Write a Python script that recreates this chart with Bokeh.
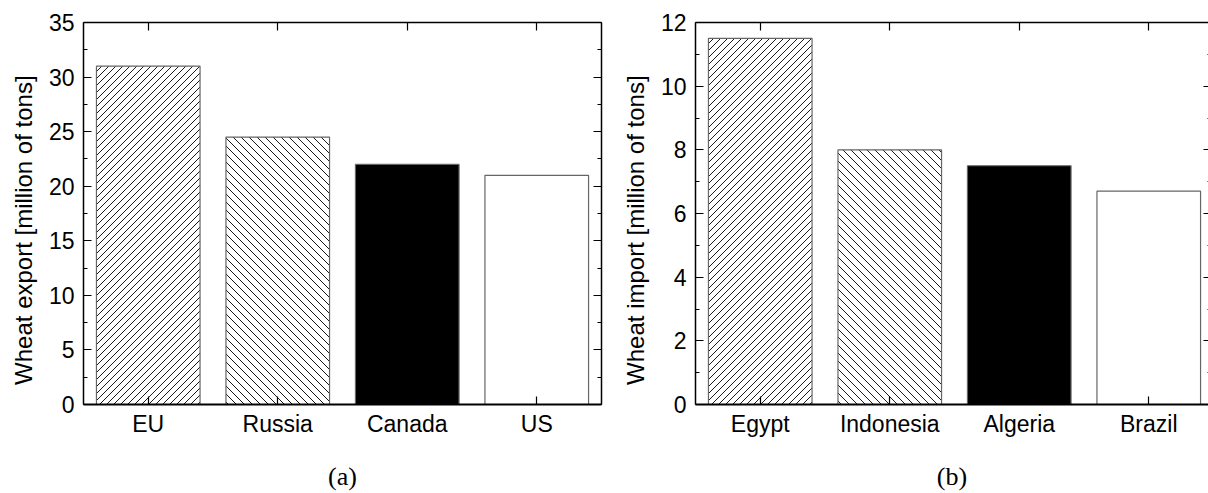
import base64
from bokeh.plotting import figure
from bokeh.models import (Range1d, FixedTicker, SingleIntervalTicker, LinearAxis,
                          CustomJSTickFormatter, ColumnDataSource, ImageURLTexture)
from bokeh.layouts import row
from bokeh.embed import file_html
from bokeh.resources import INLINE

# ---- data ----
export_countries = ["EU", "Russia", "Canada", "US"]
export_values = [31.0, 24.5, 22.0, 21.0]
import_countries = ["Egypt", "Indonesia", "Algeria", "Brazil"]
import_values = [11.5, 8.0, 7.5, 6.7]
bar_hatch = ["fwd", "bwd", " ", " "]
bar_fill = ["white", "white", "black", "white"]

FONT = "Liberation Sans"
SERIF = "Liberation Serif"
TICK_SIZE = "23px"
LABEL_SIZE = "24px"
H = 493
PX_PER_CAT = 129.5


def tile(s, forward):
    if forward:
        d = f"M0,{s} L{s},0 M-2,2 L2,-2 M{s-2},{s+2} L{s+2},{s-2}"
    else:
        d = f"M0,0 L{s},{s} M-2,{s-2} L2,{s+2} M{s-2},-2 L{s+2},2"
    svg = (f'<svg xmlns="http://www.w3.org/2000/svg" width="{s}" height="{s}">'
           f'<path d="{d}" stroke="#1a1a1a" stroke-width="1" fill="none"/></svg>')
    return "data:image/svg+xml;base64," + base64.b64encode(svg.encode()).decode()


def make_fig(cats, vals, ymax, interval, ylabel, caption, width, bl, br, cut_right):
    frame_w = width - bl - br
    x_end = -0.5 + frame_w / PX_PER_CAT
    p = figure(width=width, height=H, output_backend="svg", toolbar_location=None,
               x_range=Range1d(-0.5, x_end), y_range=Range1d(0, ymax),
               min_border_left=bl, min_border_right=br, min_border_top=22,
               min_border_bottom=89, x_axis_location=None, y_axis_location=None)
    p.outline_line_color = None
    p.xgrid.visible = False
    p.ygrid.visible = False
    p.background_fill_color = "white"
    p.border_fill_color = "white"

    src = ColumnDataSource(dict(x=list(range(len(cats))), top=vals,
                                hatch=bar_hatch, fill=bar_fill))
    textures = {"fwd": ImageURLTexture(url=tile(7, True), repetition="repeat"),
                "bwd": ImageURLTexture(url=tile(8, False), repetition="repeat")}
    p.vbar(x="x", top="top", width=0.8, bottom=0, source=src,
           fill_color="fill", line_color="#666666", line_width=1.2,
           hatch_pattern="hatch", hatch_extra=textures)

    xt = FixedTicker(ticks=list(range(len(cats))))
    overrides = {i: c for i, c in enumerate(cats)}
    blank = CustomJSTickFormatter(code="return ''")

    # bottom axis
    xb = LinearAxis(ticker=xt, major_label_overrides=overrides)
    xb.axis_label = caption
    xb.axis_label_text_font = SERIF
    xb.axis_label_text_font_style = "normal"
    xb.axis_label_text_font_size = "26px"
    xb.axis_label_standoff = 22
    # top axis
    xtop = LinearAxis(ticker=xt, formatter=blank)
    # left axis (label padded so it sits slightly below the frame centre)
    yl = LinearAxis(ticker=SingleIntervalTicker(interval=interval, num_minor_ticks=2))
    yl.axis_label = ylabel + "\u00a0" * 5
    yl.axis_label_text_font = FONT
    yl.axis_label_text_font_style = "normal"
    yl.axis_label_text_font_size = LABEL_SIZE
    yl.axis_label_standoff = 9
    # right axis
    yr = LinearAxis(ticker=SingleIntervalTicker(interval=interval, num_minor_ticks=2),
                    formatter=blank)

    for ax in (xb, xtop, yl, yr):
        ax.major_label_text_font = FONT
        ax.major_label_text_font_size = TICK_SIZE
        ax.major_label_text_color = "black"
        ax.axis_label_text_color = "black"
        ax.major_tick_in = 8
        ax.major_tick_out = 0
        ax.minor_tick_in = 4
        ax.minor_tick_out = 0
        ax.axis_line_color = "black"
        ax.axis_line_width = 1.5
        ax.major_tick_line_color = "black"
        ax.major_tick_line_width = 1.2
        ax.minor_tick_line_color = "black"
        ax.minor_tick_line_width = 1.0
        ax.major_label_standoff = 9
    for ax in (xb, xtop):
        ax.minor_tick_line_color = None
    xb.axis_line_width = 2
    xb.major_label_standoff = 6
    xtop.major_label_standoff = 0
    yr.major_label_standoff = 0
    xtop.major_label_text_font_size = "1px"
    yr.major_label_text_font_size = "1px"
    if cut_right:
        yr.axis_line_color = None
        yr.major_tick_in = 5
        yr.minor_tick_in = 1

    p.add_layout(xb, "below")
    p.add_layout(xtop, "above")
    p.add_layout(yl, "left")
    p.add_layout(yr, "right")
    return p


p1 = make_fig(export_countries, export_values, 35, 5,
              "Wheat export [million of tons]", "(a)", 605, 83, 4, False)
p2 = make_fig(import_countries, import_values, 12, 2,
              "Wheat import [million of tons]", "(b)", 603, 90, 0, True)

layout = row(p1, p2, spacing=0)
open("out.html", "w").write(file_html(layout, INLINE))
